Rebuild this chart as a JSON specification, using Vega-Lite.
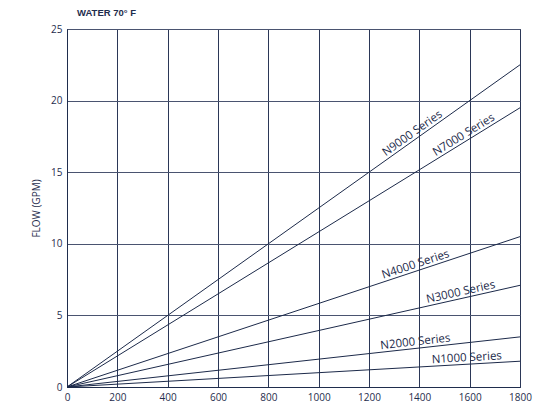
{
  "$schema": "https://vega.github.io/schema/vega-lite/v6.json",
  "width": 453,
  "height": 358,
  "autosize": {"type": "none"},
  "padding": {"left": 67, "top": 29, "right": 32, "bottom": 31},
  "background": "white",
  "title": {"text": "WATER 70° F", "anchor": "start", "frame": "group", "dx": 10, "offset": 7, "fontSize": 9.5, "fontWeight": "bold", "font": "Liberation Sans", "color": "#1f2d4d"},
  "config": {
    "view": {"stroke": "#1f2d4d", "strokeWidth": 1},
    "axis": {"labelFont": "Open Sans", "labelFontSize": 10, "labelColor": "#1f2d4d", "domainColor": "#1f2d4d", "tickSize": 0, "labelPadding": 5, "labelFlush": false, "gridOpacity": 1, "gridWidth": 1}
  },
  "datasets": {
    "lines": [
      {"series": "N9000 Series", "x": 0, "flow": 0},
      {"series": "N9000 Series", "x": 1800, "flow": 22.5},
      {"series": "N7000 Series", "x": 0, "flow": 0},
      {"series": "N7000 Series", "x": 1800, "flow": 19.5},
      {"series": "N4000 Series", "x": 0, "flow": 0},
      {"series": "N4000 Series", "x": 1800, "flow": 10.5},
      {"series": "N3000 Series", "x": 0, "flow": 0},
      {"series": "N3000 Series", "x": 1800, "flow": 7.1},
      {"series": "N2000 Series", "x": 0, "flow": 0},
      {"series": "N2000 Series", "x": 1800, "flow": 3.5},
      {"series": "N1000 Series", "x": 0, "flow": 0},
      {"series": "N1000 Series", "x": 1800, "flow": 1.8}
    ],
    "labels": [
      {"series": "N9000 Series", "x": 1387, "flow": 17.34},
      {"series": "N7000 Series", "x": 1590, "flow": 17.22},
      {"series": "N4000 Series", "x": 1393, "flow": 8.13},
      {"series": "N3000 Series", "x": 1570, "flow": 6.19},
      {"series": "N2000 Series", "x": 1387, "flow": 2.7},
      {"series": "N1000 Series", "x": 1590, "flow": 1.59}
    ]
  },
  "encoding": {
    "x": {"field": "x", "type": "quantitative", "scale": {"domain": [0, 1800], "nice": false}, "axis": {"title": null, "format": "d", "values": [0, 200, 400, 600, 800, 1000, 1200, 1400, 1600, 1800], "gridColor": "#2b3757"}},
    "y": {"field": "flow", "type": "quantitative", "scale": {"domain": [0, 25], "nice": false}, "axis": {"title": "FLOW (GPM)", "values": [0, 5, 10, 15, 20, 25], "gridColor": "#4a5470", "titleFont": "Open Sans", "titleFontSize": 10, "titleFontWeight": "normal", "titleColor": "#1f2d4d", "titlePadding": 9}}
  },
  "layer": [
    {"data": {"name": "lines"}, "mark": {"type": "line", "color": "#1c2a4a", "strokeWidth": 1}, "encoding": {"detail": {"field": "series"}}},
    {"data": {"name": "labels"}, "transform": [{"filter": "datum.series === 'N9000 Series'"}], "mark": {"type": "text", "font": "Open Sans", "fontSize": 11.5, "color": "#1c2a4a", "align": "center", "baseline": "alphabetic", "dy": -3, "angle": 324.58}, "encoding": {"text": {"field": "series"}}},
    {"data": {"name": "labels"}, "transform": [{"filter": "datum.series === 'N7000 Series'"}], "mark": {"type": "text", "font": "Open Sans", "fontSize": 11.5, "color": "#1c2a4a", "align": "center", "baseline": "alphabetic", "dy": -3, "angle": 328.35}, "encoding": {"text": {"field": "series"}}},
    {"data": {"name": "labels"}, "transform": [{"filter": "datum.series === 'N4000 Series'"}], "mark": {"type": "text", "font": "Open Sans", "fontSize": 11.5, "color": "#1c2a4a", "align": "center", "baseline": "alphabetic", "dy": -3, "angle": 341.63}, "encoding": {"text": {"field": "series"}}},
    {"data": {"name": "labels"}, "transform": [{"filter": "datum.series === 'N3000 Series'"}], "mark": {"type": "text", "font": "Open Sans", "fontSize": 11.5, "color": "#1c2a4a", "align": "center", "baseline": "alphabetic", "dy": -3, "angle": 347.35}, "encoding": {"text": {"field": "series"}}},
    {"data": {"name": "labels"}, "transform": [{"filter": "datum.series === 'N2000 Series'"}], "mark": {"type": "text", "font": "Open Sans", "fontSize": 11.5, "color": "#1c2a4a", "align": "center", "baseline": "alphabetic", "dy": -3, "angle": 353.69}, "encoding": {"text": {"field": "series"}}},
    {"data": {"name": "labels"}, "transform": [{"filter": "datum.series === 'N1000 Series'"}], "mark": {"type": "text", "font": "Open Sans", "fontSize": 11.5, "color": "#1c2a4a", "align": "center", "baseline": "alphabetic", "dy": -3, "angle": 356.74}, "encoding": {"text": {"field": "series"}}}
  ]
}
